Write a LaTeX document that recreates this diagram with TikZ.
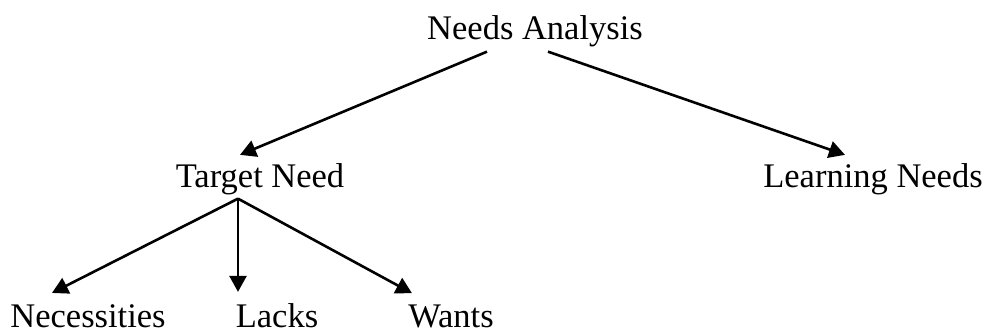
\documentclass[tikz,border=0pt]{standalone}
\usepackage{fontspec}
\setmainfont{Liberation Serif}
\usetikzlibrary{arrows.meta,calc}
\begin{document}
\begin{tikzpicture}[x=1pt,y=-1pt,
  label/.style={inner sep=0pt,anchor=base,font=\fontsize{34.5}{40}\selectfont},
  arr/.style={line width=2.6pt,-{Triangle[length=16pt,width=17pt]}}]
\useasboundingbox (0,0) rectangle (987,334);
% labels
\node[label] (na) at (535,40) {Needs Analysis};
\node[label] (tn) at (260,187) {Target Need};
\node[label] (ln) at (873,187) {Learning Needs};
\node[label] (ne) at (88,327) {Necessities};
\node[label] (la) at (277,327) {Lacks};
\node[label] (wa) at (451,327) {Wants};
% branch points
\coordinate (naL) at ($(na.south)+(-48,4)$);
\coordinate (naR) at ($(na.south)+(13,4)$);
\coordinate (tnB) at ($(tn.south)+(-22,4)$);
% connectors
\draw[arr] (naL) -- ($(tn.north)+(-20,-8)$);
\draw[arr] (naR) -- ($(ln.north)+(-28,-8)$);
\draw[arr] (tnB) -- ($(ne.north)+(-36,-11)$);
\draw[arr] (tnB) -- ($(la.north)+(-39,-11)$);
\draw[arr] (tnB) -- ($(wa.north)+(-39,-11)$);
\end{tikzpicture}
\end{document}
